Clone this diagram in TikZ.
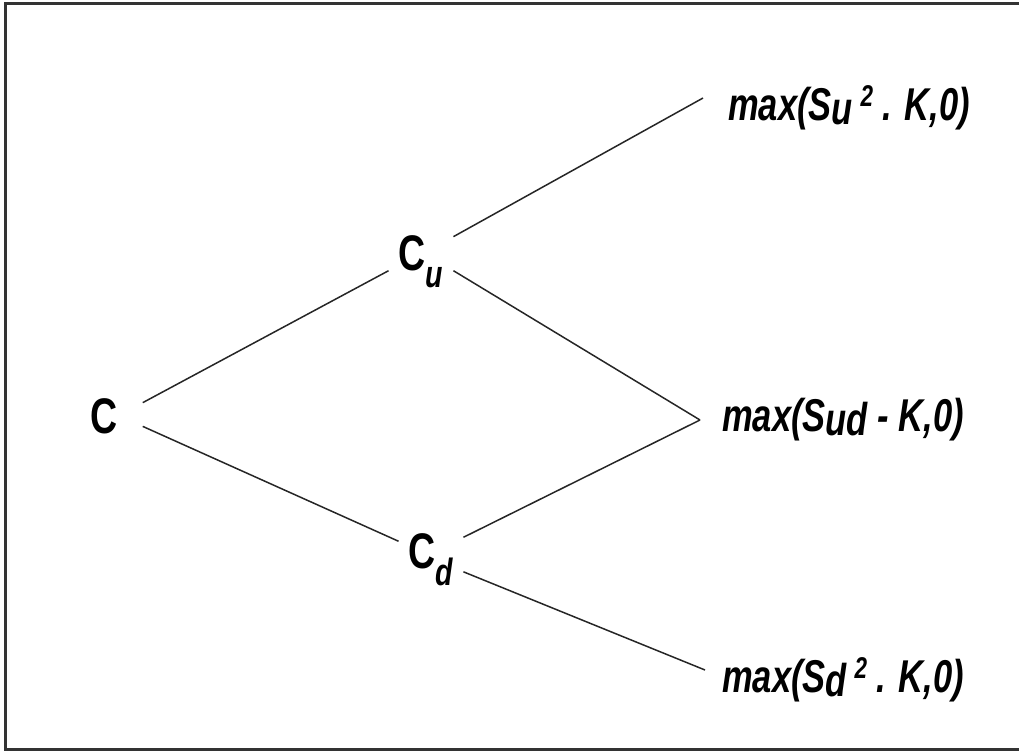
\documentclass[tikz,border=0pt]{standalone}
\usepackage{fontspec}
\setmainfont{Liberation Sans}[FakeStretch=0.75]
\usetikzlibrary{calc}

\begin{document}
\begin{tikzpicture}[
    x=1pt, y=-1pt,
    branch/.style={line width=1.5pt, black!85},
    frame/.style={line width=3pt, black!80},
    value/.style={font=\fontsize{50}{54}\selectfont\bfseries, inner sep=10pt},
    payoff/.style={font=\fontsize{46}{50}\selectfont\bfseries\itshape, anchor=west, inner ysep=2pt},
]

% =============================================================================
% Frame
% =============================================================================
\useasboundingbox (0,0) rectangle (1019,754);
\draw[frame] (1019,4) -- (5,4) -- (5,749) -- (1019,749);

% --- Option values ---
\node[value, inner xsep=25pt] (C) at (104,416) {C};
\node[value] (Cu) at (421,262) {C\raisebox{-0.34em}{\fontsize{38}{38}\selectfont\itshape u}};
\node[value] (Cd) at (431,560) {C\raisebox{-0.34em}{\fontsize{38}{38}\selectfont\itshape d}};

% --- Payoffs at expiry ---
\node[payoff, inner xsep=25pt] (Tuu) at (703,108)
    {max(S\raisebox{-0.08em}{u}\,\raisebox{0.3em}{\fontsize{30}{30}\selectfont 2} . K,0)};
\node[payoff, inner xsep=22pt] (Tud) at (700,420)
    {max(S\raisebox{-0.08em}{ud} - K,0)};
\node[payoff, inner xsep=17pt] (Tdd) at (705,680)
    {max(S\raisebox{-0.08em}{d}\,\raisebox{0.3em}{\fontsize{30}{30}\selectfont 2} . K,0)};

% --- Tree ---
\draw[branch] (C.19) -- (Cu.195);
\draw[branch] (C.-15) -- (Cd.150);
\draw[branch] (Cu.38) -- ([yshift=10pt]Tuu.west);
\draw[branch] (Cu.-15) -- (Tud.west);
\draw[branch] (Cd.35) -- (Tud.west);
\draw[branch] (Cd.-20) -- ([yshift=10pt]Tdd.west);

\end{tikzpicture}
\end{document}
